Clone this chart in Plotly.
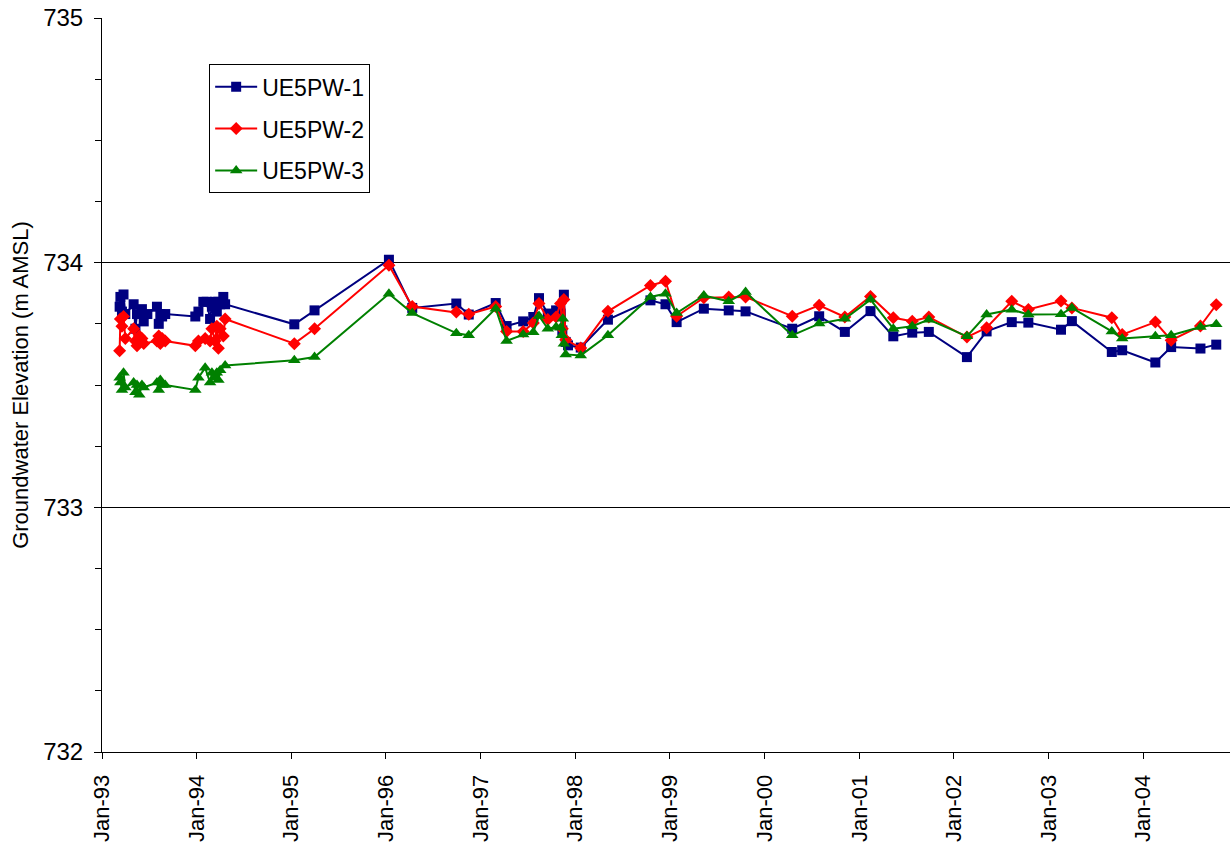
import plotly.graph_objects as go

# UE5PW-1 groundwater elevations (m AMSL)
pw1_dates = [
    "1993-03-10", "1993-03-13", "1993-03-19", "1993-03-25", "1993-04-01", "1993-05-03",
    "1993-05-10", "1993-05-16", "1993-06-04", "1993-06-11", "1993-06-25", "1993-08-01",
    "1993-08-08", "1993-08-14", "1993-08-21", "1993-09-02", "1993-12-27", "1994-01-08",
    "1994-01-27", "1994-02-09", "1994-02-22", "1994-03-01", "1994-03-13", "1994-03-20",
    "1994-03-26", "1994-04-02", "1994-04-14", "1994-04-21",
    "1995-01-13", "1995-04-01", "1996-01-13", "1996-04-12", "1996-09-29", "1996-11-16",
    "1997-02-28", "1997-04-11", "1997-06-14", "1997-07-23", "1997-08-14", "1997-09-17",
    "1997-10-19", "1997-11-05", "1997-11-12", "1997-11-18", "1997-11-25", "1997-12-04",
    "1998-01-22", "1998-05-07", "1998-10-18", "1998-12-15", "1999-01-27", "1999-05-12",
    "1999-08-16", "1999-10-20", "2000-04-17", "2000-07-30", "2000-11-06", "2001-02-13",
    "2001-05-12", "2001-07-24", "2001-09-26", "2002-02-20", "2002-05-07", "2002-08-12",
    "2002-10-15", "2003-02-18", "2003-04-01", "2003-09-02", "2003-10-12", "2004-02-17",
    "2004-04-18", "2004-08-09", "2004-10-09",
]
pw1_values = [
    733.82, 733.86, 733.80, 733.87, 733.79, 733.83,
    733.73, 733.79, 733.81, 733.76, 733.79, 733.82,
    733.75, 733.79, 733.78, 733.79, 733.78, 733.80,
    733.84, 733.84, 733.77, 733.82, 733.84, 733.80,
    733.84, 733.83, 733.86, 733.83,
    733.748, 733.805, 734.012, 733.815, 733.833, 733.788,
    733.835, 733.741, 733.760, 733.778, 733.855, 733.792,
    733.805, 733.792, 733.723, 733.869, 733.676, 733.662,
    733.653, 733.767, 733.846, 733.830, 733.757, 733.812,
    733.805, 733.801, 733.730, 733.781, 733.717, 733.802,
    733.699, 733.714, 733.717, 733.614, 733.719, 733.757,
    733.755, 733.726, 733.761, 733.635, 733.642, 733.592,
    733.655, 733.649, 733.665,
]

# UE5PW-2 groundwater elevations (m AMSL)
pw2_dates = [
    "1993-03-10", "1993-03-13", "1993-03-19", "1993-03-25", "1993-04-01", "1993-05-03",
    "1993-05-10", "1993-05-16", "1993-05-25", "1993-06-04", "1993-06-11", "1993-08-01",
    "1993-08-08", "1993-08-14", "1993-08-21", "1993-09-02", "1993-12-27", "1994-01-08",
    "1994-02-03", "1994-02-22", "1994-03-01", "1994-03-13", "1994-03-20", "1994-03-26",
    "1994-04-02", "1994-04-14", "1994-04-21",
    "1995-01-13", "1995-04-01", "1996-01-13", "1996-04-12", "1996-09-29", "1996-11-16",
    "1997-02-28", "1997-04-11", "1997-06-14", "1997-07-23", "1997-08-14", "1997-09-17",
    "1997-10-19", "1997-11-05", "1997-11-12", "1997-11-18", "1997-11-25", "1998-01-22",
    "1998-05-07", "1998-10-18", "1998-12-15", "1999-01-27", "1999-05-12", "1999-08-16",
    "1999-10-20", "2000-04-17", "2000-07-30", "2000-11-06", "2001-02-13", "2001-05-12",
    "2001-07-24", "2001-09-26", "2002-02-20", "2002-05-07", "2002-08-12", "2002-10-15",
    "2003-02-18", "2003-04-01", "2003-09-02", "2003-10-12", "2004-02-17", "2004-04-18",
    "2004-08-09", "2004-10-09",
]
pw2_values = [
    733.64, 733.77, 733.74, 733.78, 733.69, 733.73,
    733.68, 733.66, 733.70, 733.69, 733.67, 733.68,
    733.70, 733.67, 733.69, 733.68, 733.66, 733.68,
    733.69, 733.68, 733.73, 733.68, 733.74, 733.65,
    733.73, 733.70, 733.77,
    733.669, 733.730, 733.989, 733.821, 733.798, 733.789,
    733.821, 733.719, 733.719, 733.753, 733.833, 733.768,
    733.778, 733.833, 733.730, 733.849, 733.685, 733.651,
    733.801, 733.907, 733.924, 733.781, 733.857, 733.860,
    733.860, 733.781, 733.826, 733.778, 733.862, 733.775,
    733.761, 733.778, 733.696, 733.734, 733.842, 733.809,
    733.843, 733.815, 733.775, 733.706, 733.757, 733.683,
    733.741, 733.828,
]

# UE5PW-3 groundwater elevations (m AMSL)
pw3_dates = [
    "1993-03-10", "1993-03-13", "1993-03-19", "1993-03-25", "1993-04-01", "1993-05-03",
    "1993-05-10", "1993-05-16", "1993-05-25", "1993-06-04", "1993-06-11", "1993-08-01",
    "1993-08-08", "1993-08-14", "1993-08-21", "1993-09-02", "1993-12-27", "1994-01-08",
    "1994-02-03", "1994-02-22", "1994-03-01", "1994-03-13", "1994-03-20", "1994-03-26",
    "1994-04-02", "1994-04-21",
    "1995-01-13", "1995-04-01", "1996-01-13", "1996-04-12", "1996-09-29", "1996-11-16",
    "1997-02-28", "1997-04-11", "1997-06-14", "1997-07-23", "1997-08-14", "1997-09-17",
    "1997-10-19", "1997-11-05", "1997-11-10", "1997-11-14", "1997-11-18", "1997-11-25",
    "1998-01-22", "1998-05-07", "1998-10-18", "1998-12-15", "1999-01-27", "1999-05-12",
    "1999-08-16", "1999-10-20", "2000-04-17", "2000-07-30", "2000-11-06", "2001-02-13",
    "2001-05-12", "2001-07-24", "2001-09-26", "2002-02-20", "2002-05-07", "2002-08-12",
    "2002-10-15", "2003-02-18", "2003-04-01", "2003-09-02", "2003-10-12", "2004-02-17",
    "2004-04-18", "2004-08-09", "2004-10-09",
]
pw3_values = [
    733.53, 733.51, 733.48, 733.55, 733.49, 733.51,
    733.47, 733.50, 733.46, 733.50, 733.49, 733.51,
    733.48, 733.52, 733.50, 733.50, 733.48, 733.53,
    733.57, 733.51, 733.55, 733.53, 733.55, 733.52,
    733.56, 733.58,
    733.601, 733.614, 733.873, 733.794, 733.712, 733.703,
    733.812, 733.680, 733.706, 733.716, 733.782, 733.730,
    733.737, 733.734, 733.703, 733.771, 733.669, 733.625,
    733.621, 733.703, 733.860, 733.873, 733.794, 733.866,
    733.842, 733.880, 733.703, 733.751, 733.771, 733.849,
    733.730, 733.740, 733.767, 733.699, 733.788, 733.808,
    733.788, 733.789, 733.815, 733.719, 733.690, 733.699,
    733.703, 733.737, 733.748,
]

series = [
    ("UE5PW-1", pw1_dates, pw1_values, "#000080", "square", 10),
    ("UE5PW-2", pw2_dates, pw2_values, "#FF0000", "diamond", 10),
    ("UE5PW-3", pw3_dates, pw3_values, "#008000", "triangle-up", 11),
]

FONT = "Liberation Sans, Arial, sans-serif"

fig = go.Figure()
for name, xs, ys, color, symbol, size in series:
    fig.add_trace(go.Scatter(
        x=xs, y=ys, name=name, mode="lines+markers",
        legendgroup=name,
        line=dict(color=color, width=2),
        marker=dict(symbol=symbol, size=size, color=color),
    ))

fig.update_layout(
    width=1230, height=842,
    margin=dict(l=102, r=0, t=18, b=90),
    paper_bgcolor="white", plot_bgcolor="white",
    font=dict(family=FONT, size=22, color="black"),
    showlegend=True,
    legend=dict(
        x=0.095, y=0.937, xanchor="left", yanchor="top",
        bordercolor="black", borderwidth=1, bgcolor="white",
        font=dict(family=FONT, size=23, color="black"),
        traceorder="grouped", tracegroupgap=9,
        itemwidth=42,
    ),
    xaxis=dict(
        type="date",
        range=["1993-01-01", "2004-12-01"],
        tick0="1993-01-01", dtick="M12", tickformat="%b-%y",
        tickangle=-90,
        ticks="outside", ticklen=6, tickcolor="black", tickwidth=1,
        ticklabelstandoff=7,
        showline=True, linecolor="black", linewidth=1,
        showgrid=False, zeroline=False, automargin=False,
        tickfont=dict(family=FONT, size=22, color="black"),
    ),
    yaxis=dict(
        range=[732, 735], dtick=1, tick0=732,
        ticks="outside", ticklen=7, tickcolor="black", tickwidth=1,
        ticklabelstandoff=6,
        showline=True, linecolor="black", linewidth=1,
        showgrid=True, gridcolor="black", gridwidth=1, zeroline=False,
        automargin=False,
        tickfont=dict(family=FONT, size=24, color="black"),
        minor=dict(dtick=0.25, ticks="outside", ticklen=6, tickcolor="black", showgrid=False),
        title=dict(text="Groundwater Elevation (m AMSL)",
                   font=dict(family=FONT, size=22, color="black"), standoff=8),
    ),
)

fig.write_html("out.html")
